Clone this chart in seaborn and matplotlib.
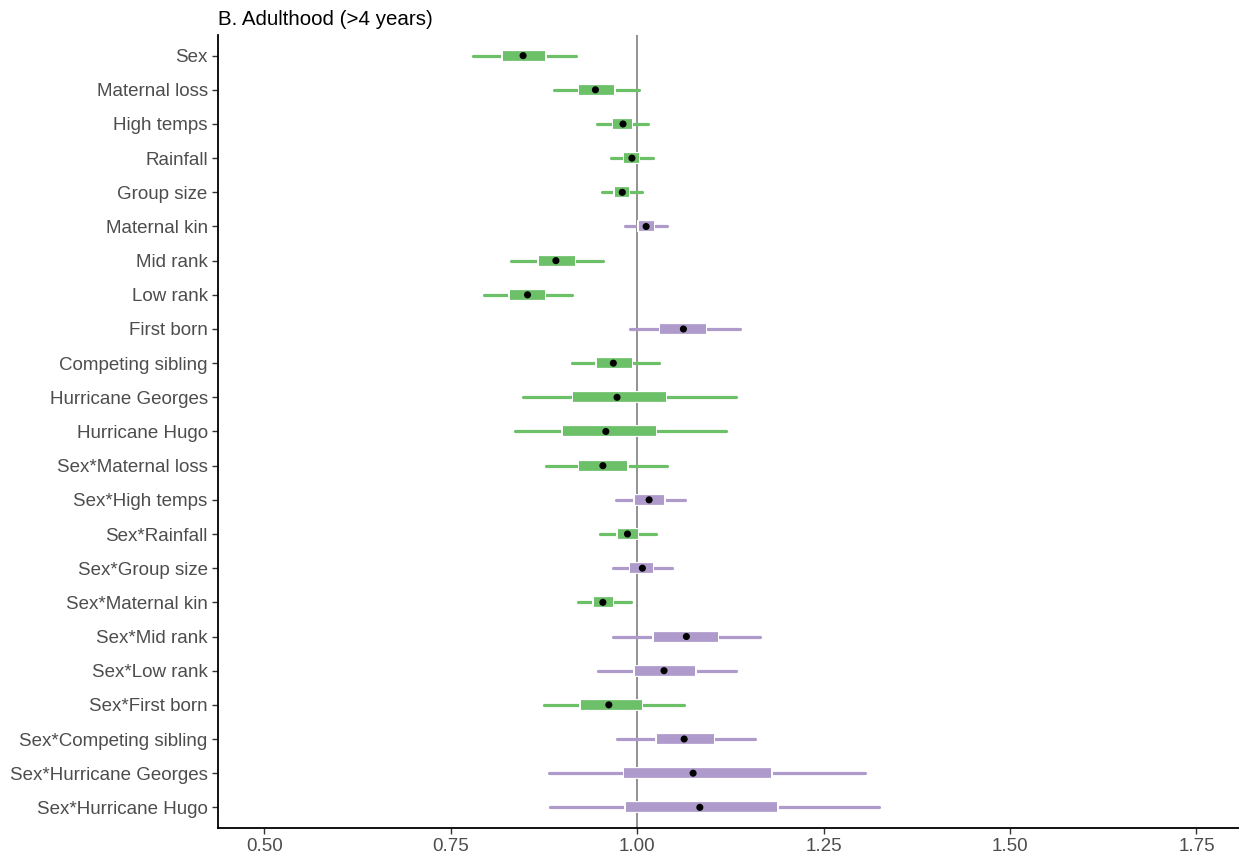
import numpy as np
import pandas as pd
import seaborn as sns
import matplotlib.pyplot as plt

# values (odds-ratio scale)
terms = ['Sex', 'Maternal loss', 'High temps', 'Rainfall', 'Group size',
         'Maternal kin', 'Mid rank', 'Low rank', 'First born',
         'Competing sibling', 'Hurricane Georges', 'Hurricane Hugo',
         'Sex*Maternal loss', 'Sex*High temps', 'Sex*Rainfall',
         'Sex*Group size', 'Sex*Maternal kin', 'Sex*Mid rank',
         'Sex*Low rank', 'Sex*First born', 'Sex*Competing sibling',
         'Sex*Hurricane Georges', 'Sex*Hurricane Hugo']
outer_lo = [0.780, 0.889, 0.946, 0.965, 0.953, 0.984, 0.831, 0.795, 0.991,
            0.912, 0.847, 0.836, 0.878, 0.971, 0.950, 0.968, 0.920, 0.968,
            0.948, 0.875, 0.973, 0.882, 0.883]
inner_lo = [0.818, 0.920, 0.966, 0.981, 0.968, 1.000, 0.866, 0.827, 1.029,
            0.944, 0.912, 0.898, 0.920, 0.995, 0.972, 0.989, 0.940, 1.020,
            0.995, 0.922, 1.024, 0.981, 0.983]
estimate = [0.847, 0.944, 0.981, 0.993, 0.980, 1.012, 0.891, 0.853, 1.062,
            0.968, 0.973, 0.958, 0.954, 1.016, 0.987, 1.007, 0.954, 1.066,
            1.036, 0.962, 1.063, 1.075, 1.084]
inner_hi = [0.879, 0.971, 0.995, 1.004, 0.991, 1.024, 0.918, 0.878, 1.094,
            0.995, 1.040, 1.027, 0.989, 1.038, 1.003, 1.023, 0.969, 1.110,
            1.080, 1.008, 1.105, 1.182, 1.190]
outer_hi = [0.918, 1.003, 1.015, 1.021, 1.007, 1.040, 0.954, 0.912, 1.138,
            1.029, 1.133, 1.119, 1.040, 1.064, 1.025, 1.047, 0.992, 1.165,
            1.133, 1.063, 1.158, 1.306, 1.324]
xticks = [0.50, 0.75, 1.00, 1.25, 1.50, 1.75]

green = '#6cc068'
purple = '#ae9acb'

df = pd.DataFrame({'term': terms, 'lo': outer_lo, 'ilo': inner_lo,
                   'est': estimate, 'ihi': inner_hi, 'hi': outer_hi})
df['pos'] = np.arange(len(df))
df['col'] = [purple if e > 1 else green for e in df['est']]

sns.set_style('ticks')
plt.rcParams['font.family'] = ['Liberation Sans', 'DejaVu Sans']

fig = plt.figure(figsize=(12.39, 8.57), dpi=100)
ax = fig.add_axes([0.176, 0.034, 0.824, 0.925])

ax.axvline(1.0, color='#7f7f7f', lw=1.2, zorder=1)

# outer intervals
ax.hlines(df['pos'], df['lo'], df['hi'], colors=df['col'], lw=2.3,
          capstyle='round', zorder=2)
# inner intervals with white edge
ax.hlines(df['pos'], df['ilo'], df['ihi'], colors='white', lw=8.6,
          zorder=3)
ax.hlines(df['pos'], df['ilo'] + 0.002, df['ihi'] - 0.002, colors=df['col'],
          lw=7.0, zorder=4)
sns.scatterplot(data=df, x='est', y='pos', color='black', s=26,
                edgecolor='none', zorder=5, ax=ax)

ax.set_xlim(0.438, 1.807)
ax.set_ylim(len(df) - 1 + 0.6, -0.6)
ax.set_xticks(xticks)
ax.set_xticklabels([f'{t:.2f}' for t in xticks])
ax.set_yticks(df['pos'])
ax.set_yticklabels(df['term'])
ax.set_xlabel('')
ax.set_ylabel('')
ax.tick_params(axis='both', labelsize=13.5, labelcolor='#4d4d4d',
               color='#333333', length=4, width=1)
for s in ['top', 'right']:
    ax.spines[s].set_visible(False)
for s in ['left', 'bottom']:
    ax.spines[s].set_color('black')
    ax.spines[s].set_linewidth(1.3)

ax.set_title('B. Adulthood (>4 years)', loc='left', fontsize=14.8,
             color='black', pad=7)

fig.savefig('out.png', dpi=100)
